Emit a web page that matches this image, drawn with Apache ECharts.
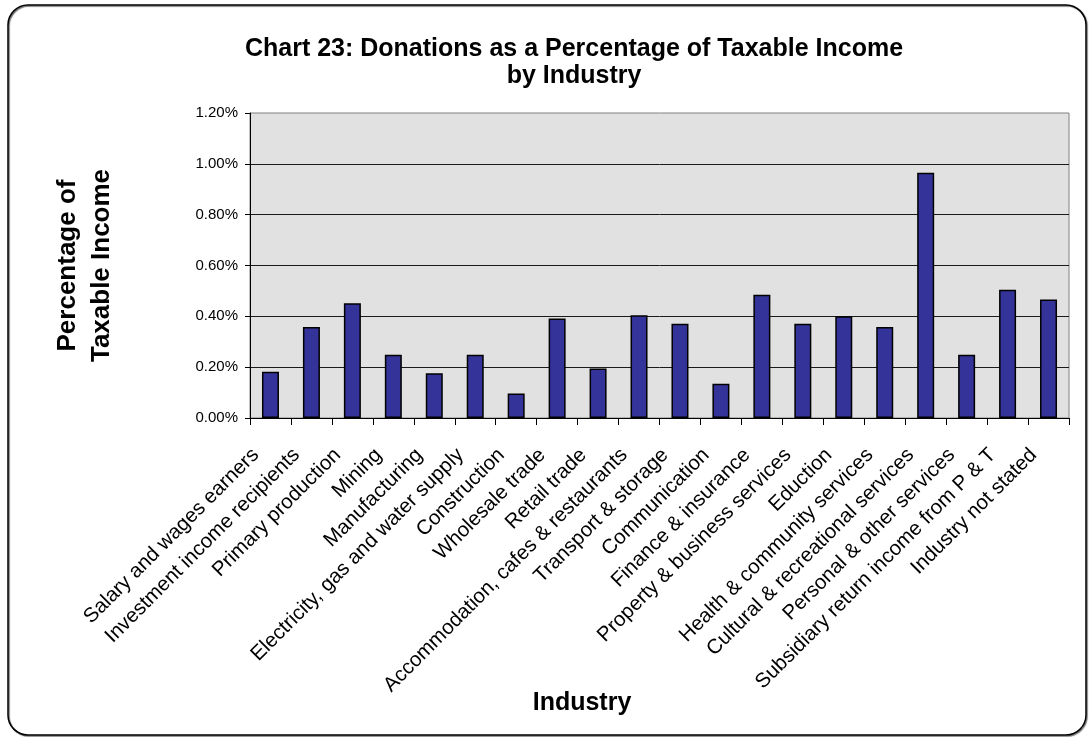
<!DOCTYPE html>
<html>
<head>
<meta charset="utf-8">
<title>Chart 23: Donations as a Percentage of Taxable Income by Industry</title>
<script src="https://cdn.jsdelivr.net/npm/echarts@6/dist/echarts.min.js"></script>
<style>
  html, body { margin: 0; padding: 0; background: #ffffff; }
  #chart { width: 1091px; height: 737px; }
</style>
</head>
<body>
<div id="chart"></div>
<script>
// Industry categories (x axis)
const industries = [
  'Salary and wages earners',
  'Investment income recipients',
  'Primary production',
  'Mining',
  'Manufacturing',
  'Electricity, gas and water supply',
  'Construction',
  'Wholesale trade',
  'Retail trade',
  'Accommodation, cafes & restaurants',
  'Transport & storage',
  'Communication',
  'Finance & insurance',
  'Property & business services',
  'Eduction',
  'Health & community services',
  'Cultural & recreational services',
  'Personal & other services',
  'Subsidiary return income from P & T',
  'Industry not stated'
];

// Donations as a percentage of taxable income (%)
const donationPct = [
  0.182, 0.358, 0.451, 0.249, 0.176, 0.249, 0.096, 0.391, 0.195, 0.404,
  0.371, 0.135, 0.485, 0.371, 0.400, 0.358, 0.965, 0.249, 0.505, 0.466
];

// Y axis range and step (%)
const yMin = 0;
const yMax = 1.2;
const yStep = 0.2;

const FONT = "'Liberation Sans', Arial, sans-serif";

const chart = echarts.init(document.getElementById('chart'), null, { renderer: 'canvas' });

chart.setOption({
  backgroundColor: '#ffffff',
  animation: false,
  title: [
    {
      text: 'Chart 23: Donations as a Percentage of Taxable Income\nby Industry',
      left: 569,
      top: 31,
      textAlign: 'center',
      textStyle: {
        fontFamily: FONT,
        fontWeight: 'bold',
        fontSize: 25,
        lineHeight: 27,
        color: '#000000'
      }
    },
    {
      text: 'Industry',
      left: 577,
      top: 686,
      textAlign: 'center',
      textStyle: {
        fontFamily: FONT,
        fontWeight: 'bold',
        fontSize: 25,
        color: '#000000'
      }
    }
  ],
  graphic: [
    {
      type: 'rect',
      shape: { x: 8, y: 5, width: 1078, height: 730, r: 20 },
      style: {
        fill: 'none',
        stroke: '#000000',
        lineWidth: 1.5,
        shadowColor: 'rgba(0,0,0,0.6)',
        shadowOffsetX: 1,
        shadowOffsetY: 1,
        shadowBlur: 1
      },
      z: -10
    }
  ],
  grid: {
    left: 250,
    right: 22,
    top: 113,
    bottom: 319,
    show: true,
    backgroundColor: '#e1e1e1',
    borderColor: '#808080',
    borderWidth: 1
  },
  xAxis: {
    type: 'category',
    data: industries,
    boundaryGap: true,
    axisLine: { show: true, lineStyle: { color: '#000000', width: 1 } },
    axisTick: { show: true, length: 7, inside: false, lineStyle: { color: '#000000' } },
    axisLabel: {
      interval: 0,
      rotate: 45,
      margin: 19,
      padding: [0, 21, 0, 0],
      fontFamily: FONT,
      fontSize: 20.5,
      color: '#000000'
    },
    splitLine: { show: false }
  },
  yAxis: {
    type: 'value',
    min: yMin,
    max: yMax,
    interval: yStep,
    name: 'Percentage of\nTaxable Income',
    nameLocation: 'middle',
    nameRotate: 90,
    nameGap: 131,
    nameTextStyle: {
      fontFamily: FONT,
      fontWeight: 'bold',
      fontSize: 26,
      lineHeight: 34,
      color: '#000000'
    },
    axisLine: { show: true, lineStyle: { color: '#000000', width: 1 } },
    axisTick: { show: true, length: 5, inside: false, lineStyle: { color: '#000000' } },
    axisLabel: {
      margin: 12,
      fontFamily: FONT,
      fontSize: 15,
      color: '#000000',
      formatter: function (v) { return v.toFixed(2) + '%'; }
    },
    splitLine: {
      show: true,
      showMinLine: false,
      showMaxLine: false,
      lineStyle: { color: '#1a1a1a', width: 1 }
    }
  },
  series: [
    {
      type: 'bar',
      data: donationPct,
      barWidth: 17,
      itemStyle: {
        color: '#333399',
        borderColor: '#000000',
        borderWidth: 1.5
      }
    }
  ]
});
</script>
</body>
</html>
